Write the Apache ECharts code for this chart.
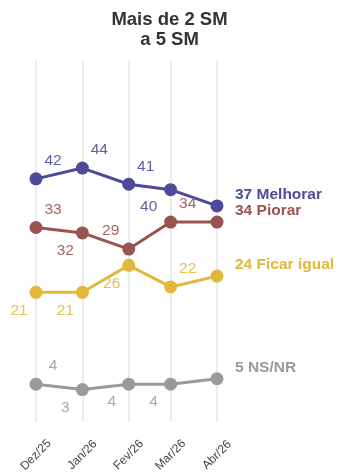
<!DOCTYPE html>
<html><head><meta charset="utf-8">
<script src="https://cdn.jsdelivr.net/npm/echarts@6/dist/echarts.min.js"></script>
<style>html,body{margin:0;padding:0;background:#fff}#c{width:339px;height:476px}</style>
</head><body><div id="c"></div>
<script>
const dates = ['2025-12-01','2026-01-01','2026-02-01','2026-03-01','2026-04-01'];
const tickLabels = ['Dez/25','Jan/26','Fev/26','Mar/26','Abr/26'];
const melhorar = [42,44,41,40,37];
const piorar = [33,32,29,34,34];
const ficarIgual = [21,21,26,22,24];
const nsnr = [4,3,4,4,5];
const seriesNames = ['Melhorar','Piorar','Ficar igual','NS/NR'];

const FONT = '"Liberation Sans", Arial, sans-serif';
const colors = ['#4e4a98','#995450','#e2b73c','#9a9a9a'];
const labelColors = ['#605ca8','#a56662','#e6bf50','#a8a8a8'];
const OFF = {UR:[17,-18], BL:[-17,18], UL:[-18,-18], BL2:[-22,17]};
const labelPlace = [
  ['UR','UR','UR','BL2'],
  ['UR','BL','UL','UR'],
  ['BL','BL','BL','UR'],
  ['UR','BL','BL','BL']
];
const allValues = [melhorar, piorar, ficarIgual, nsnr];
// day offsets from first date (time position of each month)
const t0 = Date.UTC(2025, 11, 1);
const xs = dates.map(d => Math.round((Date.parse(d + 'T00:00:00Z') - t0) / 86400000));

const series = allValues.map((vals, si) => ({
  type: 'line',
  name: seriesNames[si],
  symbol: 'circle',
  symbolSize: 13,
  lineStyle: {width: 3, color: colors[si]},
  itemStyle: {color: colors[si]},
  data: vals.map((v, i) => {
    const last = i === vals.length - 1;
    return {
      value: [xs[i], v],
      label: last ? {
        show: true, position: 'inside', align: 'left', verticalAlign: 'middle',
        offset: [18, -11], fontSize: 15.5, fontWeight: 'bold', color: colors[si], fontFamily: FONT,
        formatter: () => v + ' ' + seriesNames[si]
      } : {
        show: true, position: 'inside', align: 'center', verticalAlign: 'middle',
        offset: OFF[labelPlace[si][i]], fontSize: 15.5, color: labelColors[si], fontFamily: FONT,
        formatter: () => String(v)
      }
    };
  })
}));

const chart = echarts.init(document.getElementById('c'), null, {renderer: 'canvas'});
chart.setOption({
  animation: false,
  textStyle: {fontFamily: FONT},
  title: {
    text: 'Mais de 2 SM\na 5 SM', left: 'center', top: 5,
    textStyle: {fontSize: 18.5, fontWeight: 'bold', color: '#333', lineHeight: 20, fontFamily: FONT}
  },
  grid: {left: 36, right: 122, top: 60, bottom: 54, containLabel: false},
  xAxis: {
    type: 'value', min: xs[0], max: xs[xs.length - 1],
    axisLine: {show: false},
    axisTick: {show: false, customValues: xs},
    splitLine: {show: true, lineStyle: {color: '#ececec', width: 2}},
    axisLabel: {
      customValues: xs, rotate: 45, align: 'center', verticalAlign: 'middle',
      margin: 33, fontSize: 12, color: '#444', fontFamily: FONT,
      formatter: (val) => { const k = xs.indexOf(val); return k >= 0 ? tickLabels[k] : ''; }
    }
  },
  yAxis: {type: 'value', min: -3, max: 64, show: false, splitLine: {show: false}},
  series: series
});
</script></body></html>
